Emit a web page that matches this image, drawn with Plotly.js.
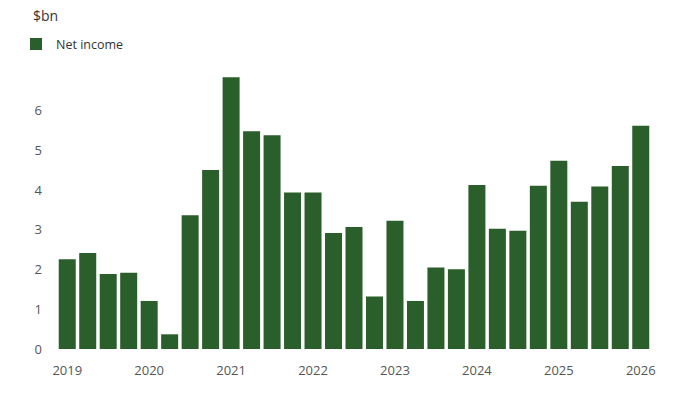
<!DOCTYPE html>
<html>
<head>
<meta charset="utf-8">
<script src="https://cdn.plot.ly/plotly-3.0.1.min.js"></script>
<style>html,body{margin:0;padding:0;background:#fff;}#chart{width:700px;height:394px;}</style>
</head>
<body>
<div id="chart"></div>
<script>
// Quarterly periods (Q1 2019 .. Q1 2026)
const quarters = [
  "2019 Q1","2019 Q2","2019 Q3","2019 Q4",
  "2020 Q1","2020 Q2","2020 Q3","2020 Q4",
  "2021 Q1","2021 Q2","2021 Q3","2021 Q4",
  "2022 Q1","2022 Q2","2022 Q3","2022 Q4",
  "2023 Q1","2023 Q2","2023 Q3","2023 Q4",
  "2024 Q1","2024 Q2","2024 Q3","2024 Q4",
  "2025 Q1","2025 Q2","2025 Q3","2025 Q4",
  "2026 Q1"
];
// Net income, $bn
const netIncome = [
  2.26, 2.42, 1.89, 1.92,
  1.21, 0.37, 3.37, 4.51,
  6.84, 5.48, 5.38, 3.94,
  3.94, 2.92, 3.07, 1.32,
  3.23, 1.21, 2.05, 2.01,
  4.13, 3.03, 2.98, 4.11,
  4.74, 3.71, 4.09, 4.61,
  5.62
];
const yearTickVals = ["2019 Q1","2020 Q1","2021 Q1","2022 Q1","2023 Q1","2024 Q1","2025 Q1","2026 Q1"];
const yearTickText = ["2019","2020","2021","2022","2023","2024","2025","2026"];
const yTickVals = [0,1,2,3,4,5,6];

const green = "#2a5e2b";
const trace = {
  type: "bar",
  name: "Net income",
  x: quarters,
  y: netIncome,
  marker: {color: green, line: {width: 0}},
  hoverinfo: "x+y"
};

const layout = {
  width: 700, height: 394,
  margin: {l: 56.5, r: 49, t: 71, b: 45},
  paper_bgcolor: "#ffffff",
  plot_bgcolor: "#ffffff",
  font: {family: "Open Sans, sans-serif", color: "#555555", size: 13},
  bargap: 0.17,
  showlegend: true,
  legend: {
    orientation: "h",
    x: -0.069, xanchor: "left",
    y: 1.15, yanchor: "top",
    font: {size: 12.5, color: "#333333"},
    bgcolor: "rgba(0,0,0,0)"
  },
  xaxis: {
    type: "category",
    tickmode: "array",
    tickvals: yearTickVals,
    ticktext: yearTickText,
    showgrid: false, zeroline: false, showline: false,
    ticks: "", ticklabelstandoff: 12,
    tickfont: {size: 13, color: "#555555"},
    fixedrange: true
  },
  yaxis: {
    range: [0, 7],
    tickmode: "array",
    tickvals: yTickVals,
    showgrid: false, zeroline: false, showline: false,
    ticks: "", ticklabelstandoff: 14,
    tickfont: {size: 13, color: "#555555"},
    fixedrange: true
  },
  annotations: [{
    text: "$bn",
    xref: "paper", yref: "paper",
    x: -0.0446, xanchor: "left",
    y: 1.198, yanchor: "middle",
    showarrow: false,
    font: {size: 14, color: "#333333"}
  }]
};

Plotly.newPlot("chart", [trace], layout, {displayModeBar: false, staticPlot: true});
</script>
</body>
</html>
